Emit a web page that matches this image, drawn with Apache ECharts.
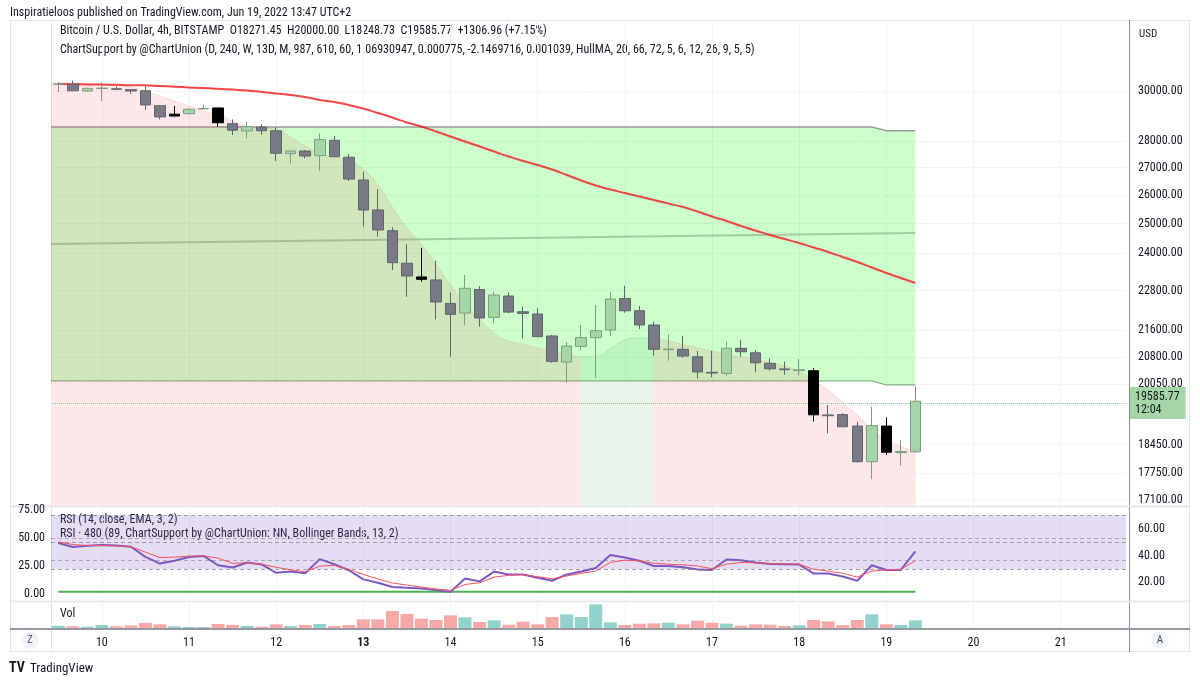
<!DOCTYPE html>
<html>
<head>
<meta charset="utf-8">
<title>BTCUSD 4h - ChartSupport</title>
<script src="https://cdn.jsdelivr.net/npm/echarts@6/dist/echarts.min.js"></script>
<style>
    html, body { margin: 0; padding: 0; background: #fff; }
    #chart { width: 1200px; height: 683px; }
</style>
</head>
<body>
<div id="chart"></div>
<script>
// 4h candles, Jun 9 14:00 -> Jun 19 10:00 (UTC+2)
var opens = [30270, 30280, 30000, 30100, 30090, 30055, 30010, 29400, 28985, 29080,
    29270, 29310, 28680, 28395, 28550, 28405, 27525, 27625, 27450, 28035,
    27390, 26545, 25475, 24760, 23675, 23235, 23140, 22405, 22110, 22835,
    21980, 22635, 22150, 22080, 21425, 20670, 21120, 21375, 21600, 22555,
    22180, 21750, 21025, 21035, 20820, 20380, 20350, 21065, 20935, 20635,
    20475, 20430, 20425, 19220, 19230, 18930, 18025, 18930, 18250, 18271.45];
var closes = [30290, 30010, 30110, 30120, 30070, 30000, 29430, 28950, 29060, 29255,
    29290, 28720, 28425, 28565, 28405, 27540, 27625, 27435, 28060, 27410,
    26580, 25475, 24785, 23695, 23265, 23160, 22450, 22070, 22875, 21960,
    22665, 22140, 22100, 21405, 20690, 21130, 21375, 21580, 22540, 22180,
    21750, 21035, 21045, 20840, 20390, 20360, 21065, 20965, 20650, 20480,
    20455, 20450, 19225, 19200, 18910, 18025, 18940, 18260, 18278.81, 19585.77];
var lows = [29960, 29990, 29980, 29590, 30040, 29880, 29230, 28855, 28970, 29050,
    29260, 28565, 28240, 28110, 28240, 27250, 27160, 27350, 26875, 27400,
    26510, 24895, 24555, 23455, 22610, 23085, 21920, 20820, 21750, 21700,
    21800, 22100, 21355, 21385, 20650, 20090, 21015, 20230, 21425, 22120,
    21630, 20850, 20710, 20795, 20205, 20240, 20285, 20820, 20380, 20425,
    20315, 20295, 19045, 18740, 18900, 18000, 17595, 18190, 17925, 18248.73];
var highs = [30370, 30430, 30140, 30360, 30180, 30060, 30180, 29420, 29390, 29290,
    29430, 29320, 28855, 28760, 28660, 28540, 27665, 27665, 28305, 28200,
    27510, 26850, 26220, 24875, 24300, 24185, 23760, 22750, 23295, 22945,
    22770, 22750, 22305, 22255, 21455, 21240, 21750, 22355, 22760, 22955,
    22325, 21850, 21475, 21425, 20985, 20995, 21255, 21305, 21015, 20775,
    20680, 20755, 20495, 19485, 19275, 19045, 19440, 19160, 18570, 20000];
var volumes = [7, 5, 4, 9, 5, 8, 15, 11, 5, 3,
    3, 12, 9, 6, 4, 11, 6, 9, 12, 6,
    9, 26, 26, 51, 42, 28, 24, 38, 32, 18,
    23, 10, 19, 11, 33, 41, 33, 71, 17, 9,
    13, 14, 16, 11, 22, 16, 13, 7, 11, 10,
    6, 8, 24, 20, 9, 24, 41, 11, 9, 23];
var maRed = [30290, 30282, 30273, 30265, 30257, 30240, 30236, 30207, 30178, 30149,
    30124, 30091, 30058, 30021, 29959, 29897, 29835, 29754, 29631, 29550,
    29428, 29287, 29107, 28927, 28729, 28571, 28376, 28181, 27988, 27797,
    27607, 27418, 27248, 27099, 26932, 26729, 26528, 26346, 26202, 26076,
    25951, 25826, 25702, 25579, 25421, 25247, 25091, 24920, 24766, 24613,
    24478, 24344, 24194, 24045, 23880, 23717, 23538, 23361, 23201, 23042];
var supportCurve = [30332, 30332, 30311, 30290, 30249, 30165, 30000, 29795, 29591, 29388,
    29187, 29026, 28788, 28591, 28513, 28454, 28162, 27816, 27549, 27398,
    27248, 26950, 26364, 25579, 24852, 24314, 23655, 22982, 22420, 21933,
    21515, 21280, 21178, 21076, 20975, 20875, 20817, 20832, 21047, 21306,
    21365, 21365, 21277, 21178, 21076, 20989, 20903, 20817, 20746, 20660,
    20561, 20406, 20156, 19895, 19543, 19223, 18831, 18600, 18410, 18272];
var risingCurve = [36, 41];          // candles where the support curve turns up
var zoneTop = [28550, 28410];        // level before / after the step
var zoneBottom = [20140, 20030];
var zoneStepAt = 57;
var midLine = [24314, 24681];        // start, end
var rsi = [49.4, 46.4, 47.4, 47.9, 47.5, 46.6, 39.1, 34.1, 36.2, 38.9,
    39.8, 32.8, 31.1, 34.9, 33.4, 27.2, 28.1, 26.8, 37.4, 33.6,
    29.1, 22.3, 19.8, 16.6, 16.0, 15.5, 14.3, 13.0, 23.0, 20.8,
    28.1, 26.0, 26.0, 23.5, 21.3, 26.0, 28.1, 30.8, 40.4, 38.6,
    36.1, 32.3, 32.3, 31.3, 29.6, 29.3, 37.1, 36.6, 34.9, 33.8,
    33.6, 33.4, 26.6, 26.6, 24.5, 21.3, 32.8, 29.3, 29.3, 43.2];
var rsiMa = [50.2, 48.3, 47.5, 47.5, 47.2, 46.6, 42.6, 38.5, 38.9, 39.6,
    39.8, 38.1, 34.3, 34.7, 33.6, 31.3, 29.4, 28.1, 32.1, 32.8,
    29.8, 26.0, 22.6, 19.6, 18.1, 16.6, 15.2, 14.2, 18.5, 19.8,
    24.0, 25.3, 25.8, 24.3, 22.8, 24.8, 26.8, 28.5, 34.9, 36.6,
    36.1, 34.3, 33.6, 33.1, 32.3, 30.3, 33.6, 34.9, 34.6, 34.1,
    33.8, 33.6, 29.8, 28.5, 26.8, 24.0, 28.5, 29.3, 29.8, 36.1];
var rsiFloor = 2;
var rsiBands = [30, 50, 70];
var rsi480Bands = [30, 50];
var blackCandles = [8, 11, 25, 52, 57];
var priceTicks = [30000, 28000, 27000, 26000, 25000, 24000, 22800, 21600, 20800, 20050, 18450, 17750, 17100];
var priceRange = [16960, 33075];
var rsiLeftTicks = [0, 25, 50, 75];
var rsiRightTicks = [20, 40, 60];
var dayTicks = [3, 9, 15, 21, 27, 33, 39, 45, 51, 57, 63, 69];
var dayNames = ['10', '11', '12', '13', '14', '15', '16', '17', '18', '19', '20', '21'];
var boldDay = '13';
var countdown = '12:04';

var lg = Math.log;
var n = opens.length;
var slots = 74;
var xMin = -0.5, xMax = slots - 0.5;
var font = "'Liberation Sans Narrow', 'Roboto Condensed', Roboto, sans-serif";
var textColor = '#131722';

var candleData = [], volData = [];
var zoneHigh = [], zoneLow = [], curveDown = [], curveUp = [], maData = [];
var rsiData = [], rsiMaData = [], floorData = [];
for (var i = -1; i < n; i++) {
    var k = i < 0 ? 0 : i;
    var x = i < 0 ? xMin : i;
    var s = k >= zoneStepAt ? 1 : 0;
    zoneHigh.push([x, lg(zoneTop[s])]);
    zoneLow.push([x, lg(zoneBottom[s])]);
    var c = lg(supportCurve[k]);
    var inRise = k >= risingCurve[0] && k <= risingCurve[1];
    var edge = k === risingCurve[0] || k === risingCurve[1];
    curveDown.push([x, (!inRise || edge) ? c : null]);
    if (i < 0) continue;
    curveUp.push([i, inRise ? c : null]);
    maData.push([i, lg(maRed[i])]);
    rsiData.push([i, rsi[i]]);
    rsiMaData.push([i, rsiMa[i]]);
    floorData.push([i, rsiFloor]);
    var up = closes[i] >= opens[i];
    var item = {value: [i, lg(opens[i]), lg(closes[i]), lg(lows[i]), lg(highs[i])]};
    if (blackCandles.indexOf(i) >= 0) {
        item.itemStyle = {color: '#000', color0: '#000', borderColor: '#000', borderColor0: '#000'};
    }
    candleData.push(item);
    volData.push({value: [i, volumes[i]], itemStyle: {color: up ? 'rgba(38,166,154,0.5)' : 'rgba(239,83,80,0.5)'}});
}

var last = n - 1;
var chg = closes[last] - closes[last - 1];
var legend1 = 'Bitcoin / U.S. Dollar, 4h, BITSTAMP  O' + opens[last].toFixed(2) + '  H' + highs[last].toFixed(2) +
    '  L' + lows[last].toFixed(2) + '  C' + closes[last].toFixed(2) + '  +' + chg.toFixed(2) +
    ' (+' + (chg / closes[last - 1] * 100).toFixed(2) + '%)';

function xAxisFor(grid, labels) {
    return {
        type: 'value', gridIndex: grid, min: xMin, max: xMax,
        axisLine: {show: false},
        axisTick: {show: false, customValues: dayTicks},
        splitLine: {show: true, lineStyle: {color: '#f0f3fa', width: 1}},
        axisLabel: {
            show: labels, customValues: dayTicks, margin: 9,
            fontFamily: font, fontSize: 12, color: textColor,
            formatter: function (v) {
                var d = dayNames[dayTicks.indexOf(v)];
                return d === boldDay ? '{b|' + d + '}' : d;
            },
            rich: {b: {fontWeight: 'bold', fontFamily: font, fontSize: 12, color: textColor}}
        }
    };
}

var option = {
    animation: false,
    backgroundColor: '#fff',
    grid: [
        {left: 51, width: 1075, top: 20, height: 486},
        {left: 51, width: 1075, top: 507, height: 94},
        {left: 51, width: 1075, top: 602, height: 26}
    ],
    xAxis: [xAxisFor(0, false), xAxisFor(1, false), xAxisFor(2, true)],
    yAxis: [
        {
            type: 'value', gridIndex: 0, position: 'right', min: lg(priceRange[0]), max: lg(priceRange[1]),
            axisLine: {show: false},
            axisTick: {show: false, customValues: priceTicks.map(lg)},
            splitLine: {show: true, lineStyle: {color: '#f3f4f8'}},
            axisLabel: {
                customValues: priceTicks.map(lg), margin: 12, fontFamily: font, fontSize: 12, color: textColor,
                formatter: function (v) { return Math.exp(v).toFixed(2); }
            }
        },
        {
            type: 'value', gridIndex: 1, position: 'left', min: -6.25, max: 77.7,
            axisLine: {show: false}, splitLine: {show: false},
            axisTick: {show: false, customValues: rsiLeftTicks},
            axisLabel: {
                customValues: rsiLeftTicks, margin: 6, fontFamily: font, fontSize: 12, color: textColor,
                formatter: function (v) { return v.toFixed(2); }
            }
        },
        {
            type: 'value', gridIndex: 1, position: 'right', min: 6.2, max: 76.2,
            axisLine: {show: false}, splitLine: {show: false},
            axisTick: {show: false, customValues: rsiRightTicks},
            axisLabel: {
                customValues: rsiRightTicks, margin: 12, fontFamily: font, fontSize: 12, color: textColor,
                formatter: function (v) { return v.toFixed(2); }
            }
        },
        {type: 'value', gridIndex: 2, min: 0, max: 78, show: false}
    ],
    series: [
        // green zone: fill under the top level, then blank out everything under the bottom level
        {
            name: 'zoneTop', type: 'line', data: zoneHigh, symbol: 'none', z: 1,
            lineStyle: {color: '#9a9a9a', width: 1.5},
            areaStyle: {color: 'rgba(0,255,0,0.2)', opacity: 1, origin: 'start'}
        },
        {
            name: 'zoneBottom', type: 'line', data: zoneLow, symbol: 'none', z: 1,
            lineStyle: {color: 'rgba(96,140,90,0.85)', width: 1},
            areaStyle: {color: '#ffffff', opacity: 1, origin: 'start'}
        },
        {
            name: 'curveDown', type: 'line', data: curveDown, symbol: 'none', z: 2, smooth: true,
            lineStyle: {color: 'rgba(230,140,110,0.25)', width: 1},
            areaStyle: {color: 'rgba(242,54,69,0.12)', opacity: 1, origin: 'start'}
        },
        {
            name: 'curveUp', type: 'line', data: curveUp, symbol: 'none', z: 2, smooth: true,
            lineStyle: {color: 'rgba(76,175,80,0.2)', width: 1},
            areaStyle: {color: 'rgba(76,175,80,0.12)', opacity: 1, origin: 'start'}
        },
        {
            name: 'mid', type: 'line', symbol: 'none', z: 3,
            data: [[xMin, lg(midLine[0])], [last, lg(midLine[1])]],
            lineStyle: {color: 'rgba(110,140,110,0.45)', width: 2}
        },
        {
            name: 'ma', type: 'line', data: maData, symbol: 'none', z: 4, smooth: true,
            lineStyle: {color: 'rgba(240,30,30,0.82)', width: 2}
        },
        {
            name: 'BTCUSD', type: 'candlestick', data: candleData, barWidth: 11, z: 5,
            encode: {x: 0, y: [1, 2, 3, 4]},
            itemStyle: {
                color: '#a5d6a7', color0: '#787b86',
                borderColor: '#7f9c82', borderColor0: '#60636d', borderWidth: 1
            },
            markLine: {
                silent: true, symbol: 'none',
                lineStyle: {color: '#8bc48e', type: 'dotted', width: 1},
                label: {
                    position: 'end', distance: 4,
                    formatter: closes[last].toFixed(2) + '\n' + countdown,
                    backgroundColor: '#a5d6a7', padding: [3, 6, 3, 5], lineHeight: 13,
                    fontFamily: font, fontSize: 12, color: textColor
                },
                data: [{yAxis: lg(closes[last])}]
            }
        },
        {
            name: 'RSI', type: 'line', xAxisIndex: 1, yAxisIndex: 2, data: rsiData, symbol: 'none', z: 4,
            lineStyle: {color: '#7e57c2', width: 2},
            markArea: {
                silent: true, itemStyle: {color: 'rgba(126,87,194,0.2)'},
                data: [[{yAxis: rsiBands[0]}, {yAxis: rsiBands[2]}]]
            },
            markLine: {
                silent: true, symbol: 'none', label: {show: false},
                lineStyle: {color: 'rgba(120,123,134,0.7)', type: [4, 3], width: 1},
                data: rsiBands.map(function (v) { return {yAxis: v}; })
            }
        },
        {
            name: 'RSI MA', type: 'line', xAxisIndex: 1, yAxisIndex: 2, data: rsiMaData, symbol: 'none', z: 5,
            lineStyle: {color: '#f7525f', width: 1}
        },
        {
            name: 'RSI 480', type: 'line', xAxisIndex: 1, yAxisIndex: 1, data: floorData, symbol: 'none', z: 3,
            lineStyle: {color: '#4caf50', width: 2},
            markLine: {
                silent: true, symbol: 'none', label: {show: false},
                lineStyle: {color: 'rgba(120,123,134,0.55)', type: [4, 3], width: 1},
                data: rsi480Bands.map(function (v) { return {yAxis: v}; })
            }
        },
        {
            name: 'Vol', type: 'bar', xAxisIndex: 2, yAxisIndex: 3, data: volData, barWidth: 13
        }
    ],
    graphic: [
        {type: 'rect', silent: true, shape: {x: 10.5, y: 20.5, width: 1179, height: 631}, style: {fill: 'none', stroke: '#e0e3eb'}},
        {type: 'line', silent: true, shape: {x1: 51.5, y1: 20, x2: 51.5, y2: 652}, style: {stroke: '#e0e3eb'}},
        {type: 'line', silent: true, shape: {x1: 1129.5, y1: 20, x2: 1129.5, y2: 652}, style: {stroke: '#8c8f99'}},
        {type: 'line', silent: true, shape: {x1: 10, y1: 506.5, x2: 1190, y2: 506.5}, style: {stroke: '#e6e8ee', lineWidth: 2}},
        {type: 'line', silent: true, shape: {x1: 10, y1: 601.5, x2: 1190, y2: 601.5}, style: {stroke: '#e6e8ee', lineWidth: 2}},
        {type: 'line', silent: true, shape: {x1: 10, y1: 629, x2: 1190, y2: 629}, style: {stroke: '#9598a1', lineWidth: 2}},
        {type: 'text', left: 10, top: 7, silent: true,
            style: {text: 'Inspiratieloos published on TradingView.com, Jun 19, 2022 13:47 UTC+2', fontFamily: font, fontSize: 12, fill: textColor}},
        {type: 'text', left: 60, top: 25, silent: true, style: {text: legend1, fontFamily: font, fontSize: 12, fill: textColor}},
        {type: 'text', left: 60, top: 44, silent: true,
            style: {text: 'ChartSupport by @ChartUnion (D, 240, W, 13D, M, 987, 610, 60, 1.06930947, 0.000775, -2.1469716, 0.001039, HullMA, 20, 66, 72, 5, 6, 12, 26, 9, 5, 5)', fontFamily: font, fontSize: 12, fill: textColor}},
        {type: 'text', left: 1139, top: 29, silent: true, style: {text: 'USD', fontFamily: font, fontSize: 11, fill: textColor}},
        {type: 'text', left: 60, top: 514, silent: true, style: {text: 'RSI (14, close, EMA, 3, 2)', fontFamily: font, fontSize: 12, fill: textColor}},
        {type: 'text', left: 60, top: 528, silent: true,
            style: {text: 'RSI \u00b7 480 (89, ChartSupport by @ChartUnion: NN, Bollinger Bands, 13, 2)', fontFamily: font, fontSize: 12, fill: textColor}},
        {type: 'text', left: 60, top: 608, silent: true, style: {text: 'Vol', fontFamily: font, fontSize: 12, fill: textColor}},
        {type: 'circle', silent: true, shape: {cx: 30, cy: 640, r: 9}, style: {fill: '#f0f3fa'}},
        {type: 'text', silent: true, x: 30, y: 640, style: {text: 'Z', align: 'center', verticalAlign: 'middle', fontFamily: font, fontSize: 11, fill: '#50535e'}},
        {type: 'circle', silent: true, shape: {cx: 1160, cy: 640, r: 9}, style: {fill: '#f0f3fa'}},
        {type: 'text', silent: true, x: 1160, y: 640, style: {text: 'A', align: 'center', verticalAlign: 'middle', fontFamily: font, fontSize: 11, fill: '#50535e'}},
        {type: 'text', left: 9, top: 661, silent: true, style: {text: 'TV', fontFamily: font, fontSize: 14, fontWeight: 'bold', fill: '#131722'}},
        {type: 'text', left: 30, top: 662, silent: true, style: {text: 'TradingView', fontFamily: font, fontSize: 13, fill: '#131722'}}
    ]
};

var myChart = echarts.init(document.getElementById('chart'));
myChart.setOption(option);
</script>
</body>
</html>
